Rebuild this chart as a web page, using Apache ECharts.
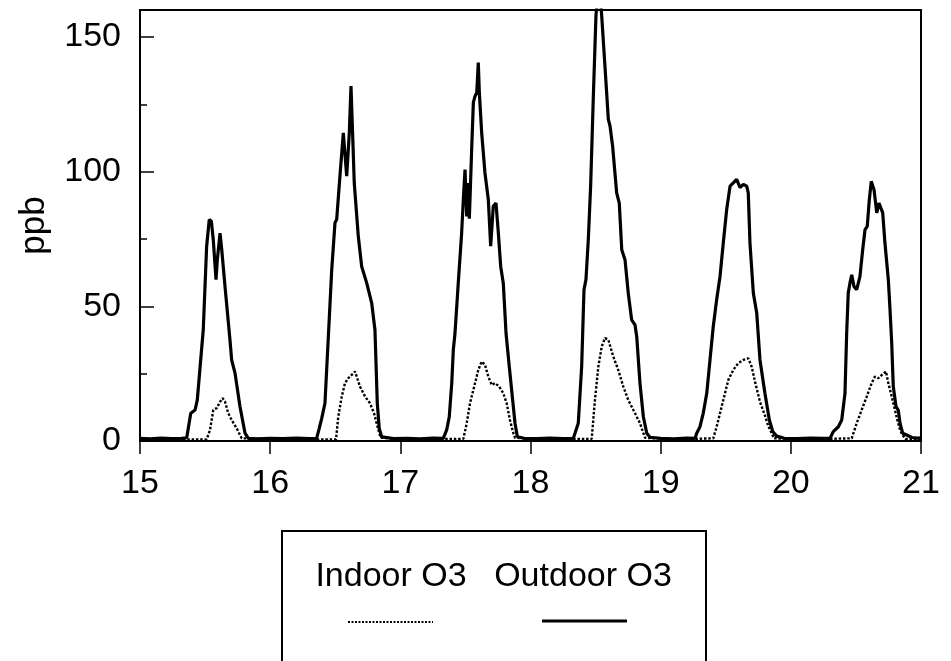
<!DOCTYPE html>
<html>
<head>
<meta charset="utf-8">
<script src="https://cdn.jsdelivr.net/npm/echarts@6/dist/echarts.min.js"></script>
<style>
html,body{margin:0;padding:0;background:#fff;}
#chart{width:951px;height:661px;}
</style>
</head>
<body>
<div id="chart"></div>
<script>
// x: day, y: ppb
const xTicks = [15, 16, 17, 18, 19, 20, 21];
const yTicks = [0, 50, 100, 150];
const seriesNames = ['Indoor O3', 'Outdoor O3'];

const outdoorO3 = [
[15.00,1.0],[15.08,0.8],[15.16,1.1],[15.24,0.9],[15.32,1.0],[15.359,1.2],
[15.371,1.6],[15.390,10.3],[15.423,11.5],[15.440,15.2],[15.486,41.3],[15.512,72.3],[15.532,82.2],[15.548,81.6],[15.563,74.7],[15.584,59.9],[15.594,67.3],[15.615,77.2],[15.628,71.0],[15.653,57.4],[15.691,37.6],[15.704,30.1],[15.730,25.2],[15.768,12.8],[15.807,2.9],[15.832,1.0],
[15.90,0.8],[16.00,1.0],[16.10,0.9],[16.20,1.1],[16.30,0.9],[16.357,1.0],
[16.377,4.7],[16.396,8.4],[16.421,14.0],[16.447,38.8],[16.473,63.6],[16.498,81.0],[16.511,82.2],[16.536,98.3],[16.562,114.4],[16.575,115.0],[16.588,98.3],[16.608,114.4],[16.621,131.8],[16.634,113.2],[16.646,95.8],[16.677,76.0],[16.703,64.8],[16.742,58.6],[16.780,51.2],[16.805,41.3],[16.823,14.0],[16.838,4.7],[16.857,1.5],
[16.95,0.9],[17.05,1.0],[17.15,0.8],[17.25,1.1],[17.330,1.0],
[17.356,4.1],[17.376,9.0],[17.395,21.5],[17.407,33.8],[17.420,40.0],[17.445,58.6],[17.471,77.2],[17.484,89.6],[17.497,100.8],[17.510,83.4],[17.518,95.8],[17.530,82.5],[17.548,108.2],[17.561,125.7],[17.574,128.0],[17.587,129.3],[17.599,140.5],[17.607,129.3],[17.625,114.4],[17.650,99.6],[17.676,89.6],[17.694,72.3],[17.714,87.1],[17.735,88.3],[17.753,77.2],[17.771,64.8],[17.791,58.6],[17.812,40.0],[17.837,27.6],[17.863,15.2],[17.881,6.6],[17.899,1.6],
[17.95,1.0],[18.05,0.9],[18.15,1.1],[18.25,0.9],[18.329,1.0],
[18.342,2.9],[18.367,6.6],[18.393,27.6],[18.411,56.2],[18.426,59.9],[18.444,74.7],[18.462,94.6],[18.482,126.8],[18.503,158.0],[18.526,172.0],[18.547,157.8],[18.572,139.2],[18.598,119.4],[18.611,116.9],[18.631,109.4],[18.662,92.1],[18.682,88.3],[18.701,71.0],[18.726,67.3],[18.751,54.9],[18.777,45.0],[18.803,43.1],[18.816,38.8],[18.841,21.5],[18.867,9.0],[18.893,2.9],[18.918,1.4],
[19.00,1.0],[19.10,0.8],[19.20,1.1],[19.264,1.0],
[19.277,2.9],[19.302,5.3],[19.327,10.3],[19.354,17.7],[19.379,30.1],[19.404,42.5],[19.430,52.4],[19.456,61.1],[19.481,73.5],[19.507,85.9],[19.533,94.6],[19.558,95.8],[19.584,97.1],[19.609,94.1],[19.635,95.3],[19.661,94.6],[19.673,92.1],[19.686,73.5],[19.712,54.9],[19.738,47.5],[19.763,30.1],[19.801,17.7],[19.835,7.8],[19.861,3.5],[19.891,1.8],
[19.95,1.0],[20.05,0.9],[20.15,1.1],[20.25,1.0],[20.301,1.0],
[20.326,3.5],[20.365,5.3],[20.391,7.8],[20.416,17.7],[20.429,40.0],[20.441,54.9],[20.454,58.6],[20.468,61.7],[20.485,57.4],[20.506,56.2],[20.531,61.1],[20.552,71.0],[20.570,78.5],[20.587,79.7],[20.603,89.6],[20.618,96.4],[20.639,93.3],[20.660,84.7],[20.677,88.3],[20.690,89.0],[20.706,84.7],[20.723,73.5],[20.749,59.9],[20.762,48.8],[20.775,36.3],[20.787,20.2],[20.808,12.8],[20.825,11.5],[20.839,6.6],[20.859,2.9],[20.890,2.2],
[20.93,1.3],[20.97,1.1],[21.00,1.2]
];

const indoorO3 = [
[15.00,0.5],[15.25,0.6],[15.512,0.6],
[15.538,4.1],[15.563,11.5],[15.589,12.2],[15.615,14.6],[15.635,15.9],[15.653,14.6],[15.678,10.3],[15.704,7.8],[15.743,4.7],[15.781,1.0],[15.794,0.5],
[16.10,0.6],[16.506,0.6],
[16.523,9.0],[16.550,16.5],[16.575,21.5],[16.600,23.3],[16.652,25.8],[16.665,25.2],[16.690,20.2],[16.729,16.5],[16.767,14.0],[16.798,10.3],[16.818,6.6],[16.838,2.9],[16.849,1.2],
[17.10,0.6],[17.484,0.8],
[17.510,6.6],[17.535,14.0],[17.574,21.5],[17.599,26.4],[17.625,29.5],[17.650,28.3],[17.676,23.9],[17.702,20.8],[17.727,21.5],[17.760,20.2],[17.791,17.7],[17.817,14.0],[17.842,7.8],[17.868,2.9],[17.881,1.2],
[18.10,0.6],[18.470,0.8],
[18.495,15.2],[18.521,27.6],[18.547,35.0],[18.572,38.2],[18.598,37.6],[18.636,31.3],[18.674,26.4],[18.713,20.2],[18.751,15.2],[18.803,10.3],[18.841,6.6],[18.867,2.9],[18.880,1.2],
[19.10,0.6],[19.404,1.0],
[19.430,5.3],[19.456,10.3],[19.481,15.2],[19.520,22.7],[19.558,26.4],[19.596,28.9],[19.635,30.1],[19.673,30.7],[19.699,27.6],[19.725,22.0],[19.763,14.5],[19.801,9.5],[19.827,5.5],[19.853,2.9],[19.870,1.0],
[20.10,0.6],[20.468,1.0],
[20.506,6.6],[20.544,11.5],[20.583,16.5],[20.621,21.5],[20.646,23.9],[20.672,23.3],[20.698,24.5],[20.731,25.8],[20.749,21.5],[20.775,16.5],[20.800,11.5],[20.818,7.8],[20.839,4.1],[20.859,2.2],[20.88,0.8],
[21.00,0.6]
];

const FONT = '"Liberation Sans", Arial, Helvetica, sans-serif';
const chart = echarts.init(document.getElementById('chart'), null, {renderer: 'canvas'});

chart.setOption({
  animation: false,
  backgroundColor: '#fff',
  grid: {left: 140, right: 30, top: 10, bottom: 220, show: true, borderColor: '#000', borderWidth: 2, backgroundColor: 'transparent'},
  xAxis: {
    type: 'value', min: xTicks[0], max: xTicks[xTicks.length - 1], interval: 1,
    axisLine: {show: true, lineStyle: {color: '#000', width: 2}},
    axisTick: {show: true, inside: false, length: 13, lineStyle: {color: '#000', width: 1.5}},
    axisLabel: {color: '#000', fontSize: 34, fontFamily: FONT, margin: 26,
      formatter: v => xTicks.includes(v) ? String(v) : ''},
    splitLine: {show: false}
  },
  yAxis: [{
    type: 'value', min: 0, max: 160, interval: 50, position: 'left',
    name: 'ppb', nameLocation: 'middle', nameGap: 88,
    nameTextStyle: {color: '#000', fontSize: 35, fontFamily: FONT},
    axisLine: {show: true, lineStyle: {color: '#000', width: 2}},
    axisTick: {show: true, inside: true, length: 14, lineStyle: {color: '#000', width: 1.5}},
    axisLabel: {color: '#000', fontSize: 34, fontFamily: FONT, margin: 19, showMaxLabel: false,
      formatter: v => yTicks.includes(v) ? String(v) : ''},
    splitLine: {show: false}
  }, {
    type: 'value', min: 0, max: 160, interval: 25, position: 'left', offset: 0,
    axisLine: {show: false},
    axisTick: {show: true, inside: true, length: 7, lineStyle: {color: '#000', width: 1.5}},
    axisLabel: {show: false},
    splitLine: {show: false}
  }],
  series: [{
    name: seriesNames[0], type: 'line', data: indoorO3, yAxisIndex: 0,
    showSymbol: false, symbol: 'none', clip: true,
    lineStyle: {color: '#000', width: 2.4, type: [2.5, 1.8]}, z: 3
  }, {
    name: seriesNames[1], type: 'line', data: outdoorO3, yAxisIndex: 0,
    showSymbol: false, symbol: 'none', clip: true,
    lineStyle: {color: '#000', width: 3.2, type: 'solid'}, z: 4
  }],
  graphic: [
    {type: 'rect', shape: {x: 282, y: 531, width: 424, height: 200},
      style: {fill: 'none', stroke: '#000', lineWidth: 2}},
    {type: 'text', x: 391, y: 577,
      style: {text: seriesNames[0], font: '34px ' + FONT, fill: '#000', textAlign: 'center', textVerticalAlign: 'middle', align: 'center', verticalAlign: 'middle'}},
    {type: 'text', x: 583, y: 577,
      style: {text: seriesNames[1], font: '34px ' + FONT, fill: '#000', textAlign: 'center', textVerticalAlign: 'middle', align: 'center', verticalAlign: 'middle'}},
    {type: 'line', shape: {x1: 348, y1: 622, x2: 433, y2: 622},
      style: {stroke: '#000', lineWidth: 2.2, lineDash: [2, 1.5]}},
    {type: 'line', shape: {x1: 542, y1: 621, x2: 627, y2: 621},
      style: {stroke: '#000', lineWidth: 2.8}}
  ]
});
</script>
</body>
</html>
